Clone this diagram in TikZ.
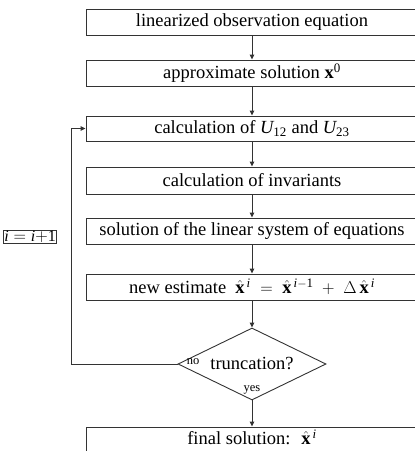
\documentclass[tikz,border=0pt]{standalone}
\usepackage{fontspec}
\setmainfont{Liberation Serif}
\usetikzlibrary{shapes.geometric,arrows.meta}
\newcommand{\xh}{\hat{\mathbf{x}}}
\newcommand{\ii}{\mathit{i}}
\tikzset{
  mainfont/.style={font=\fontsize{18.5}{21}\selectfont},
  stepbox/.style={draw=black!80,line width=0.9pt,minimum width=332pt,inner sep=0pt,mainfont},
  flow/.style={draw=black!80,line width=0.9pt,-{Triangle[length=5pt,width=4.5pt]}},
  decision/.style={draw=black!80,line width=0.9pt,diamond,minimum width=148pt,minimum height=72pt,inner sep=0pt},
  smalllab/.style={font=\fontsize{12.5}{14}\selectfont,inner sep=0pt}
}
\begin{document}
\begin{tikzpicture}[x=1pt,y=-1pt]
\useasboundingbox (0,0) rectangle (415,451);
\clip (0,0) rectangle (415,451);
\node[stepbox,minimum height=26pt] (b1) at (252,22) {linearized observation equation};
\node[stepbox,minimum height=26pt] (b2) at (252,73) {approximate solution $\mathbf{x}^{\mathrm{0}}$};
\node[stepbox,minimum height=25pt] (b3) at (252,128.5) {calculation of $\mathit{U}_{\mathrm{12}}$ and $\mathit{U}_{\mathrm{23}}$};
\node[stepbox,minimum height=27pt] (b4) at (252,180.5) {calculation of invariants};
\node[stepbox,minimum height=26pt] (b5) at (252,231) {solution of the linear system of equations};
\node[stepbox,minimum height=26pt] (b6) at (252,287) {new estimate \ $\xh^{\,\ii}\;=\;\xh^{\,\ii-\mathrm{1}}\;+\;\Delta\,\xh^{\,\ii}$};
\node[decision] (d) at (252,364) {};
\node[mainfont,inner sep=0pt] (dt) at (252,364) {truncation?};
\node[stepbox,minimum height=30pt,text depth=9pt] (b7) at (252,442) {final solution: \ $\xh^{\,\ii}$};
\node[draw=black!80,line width=0.9pt,inner sep=1pt,font=\fontsize{16}{18}\selectfont,anchor=west] (inc) at (3,237) {$\ii = \ii{+}\mathrm{1}$};
\node[smalllab] (no) at (193,362) {no};
\node[smalllab] (yes) at (252,390) {yes};
\coordinate (lc) at (71,364);
\draw[flow] (b1) -- (b2);
\draw[flow] (b2) -- (b3);
\draw[flow] (b3) -- (b4);
\draw[flow] (b4) -- (b5);
\draw[flow] (b5) -- (b6);
\draw[flow] (b6) -- (d);
\draw[flow] (d) -- (b7);
\draw[flow] (d.west) -- (lc) |- (b3.west);
\end{tikzpicture}
\end{document}
